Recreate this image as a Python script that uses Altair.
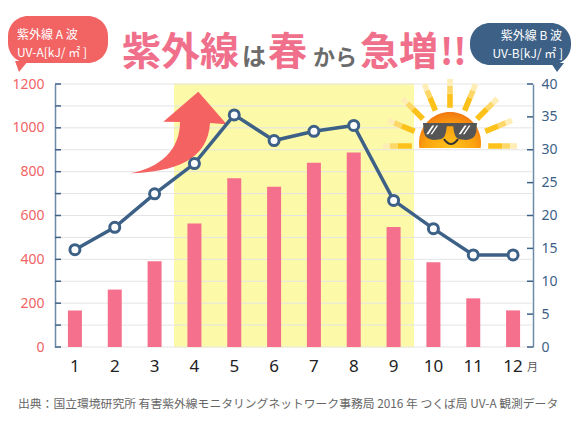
import math
import altair as alt
import pandas as pd

# ---------------- data ----------------
months = [1, 2, 3, 4, 5, 6, 7, 8, 9, 10, 11, 12]
uva = [167, 262, 391, 563, 770, 731, 841, 888, 548, 387, 222, 167]          # UV-A kJ/m2 (bars, left axis)
uvb = [14.8, 18.2, 23.3, 27.9, 35.3, 31.4, 32.8, 33.7, 22.3, 18.0, 14.0, 14.0]  # UV-B (line, right axis)
highlight_months = [4, 5, 6, 7, 8, 9]
uva_grid = list(range(0, 1201, 100))
uva_labels = [0, 200, 400, 600, 800, 1000, 1200]
uvb_labels = [0, 5, 10, 15, 20, 25, 30, 35, 40]
source_text = "出典：国立環境研究所 有害紫外線モニタリングネットワーク事務局 2016 年 つくば局 UV-A 観測データ"

# ---------------- layout ----------------
W, H = 478, 263
OX, OY = 55, 84   # page position of the plot origin
PINK = "#F4708D"
TITLE_PINK = "#F0708C"
RED = "#F26464"
BLUE = "#3D6186"
YELLOW = "#FCF9A9"
JP = "Noto Sans CJK JP"

df = pd.DataFrame({"month": months, "uva": uva, "uvb": uvb})
one = pd.DataFrame({"k": [0]})


def xenc():
    return alt.X(
        "month:O",
        scale=alt.Scale(domain=months, paddingInner=0, paddingOuter=0),
        axis=alt.Axis(title=None, labelAngle=0, domain=False, ticks=False, grid=False,
                      labelFontSize=17, labelColor="#222222", labelFont="Noto Sans",
                      labelPadding=11),
    )


yA = alt.Scale(domain=[0, 1200], nice=False)
yB = alt.Scale(domain=[0, 40], nice=False)


def axA():
    return alt.Axis(values=uva_labels, format="d", title=None, grid=False, ticks=False,
                    domainColor="#6D8AA6", domainWidth=1.5,
                    labelColor="#F06464", labelFontSize=14, labelFont="Noto Sans",
                    labelPadding=11)


def axB():
    return alt.Axis(orient="right", values=uvb_labels, format="d", title=None, grid=False, ticks=False,
                    domainColor="#6D8AA6", domainWidth=1.5,
                    labelColor=BLUE, labelFontSize=14, labelFont="Noto Sans",
                    labelPadding=8)


def shape_at(path, cx, cy, r, **kw):
    return alt.Chart(one).mark_point(shape=path, size=(2 * r) ** 2, opacity=1, **kw).encode(
        x=alt.value(cx - OX), y=alt.value(cy - OY))


def text_at(txt, x, y, **kw):
    return alt.Chart(one).mark_text(text=txt, **kw).encode(
        x=alt.value(x - OX), y=alt.value(y - OY))


def poly(pts):
    return "M" + " L".join(f"{x:.3f},{y:.3f}" for x, y in pts) + " Z"


def ray_path(r0, r1, hw):
    parts = []
    for i in range(9):
        a = math.radians(22.5 * i)
        dx, dy = math.cos(a), -math.sin(a)
        nx, ny = -dy, dx
        parts.append(poly([(dx * r0 + nx * hw, dy * r0 + ny * hw), (dx * r1 + nx * hw, dy * r1 + ny * hw),
                           (dx * r1 - nx * hw, dy * r1 - ny * hw), (dx * r0 - nx * hw, dy * r0 - ny * hw)]))
    return " ".join(parts)


def sun_body_path(cut):
    t0 = -math.asin(cut)
    t1 = math.pi - t0
    pts = [(math.cos(t0 + (t1 - t0) * k / 48), -math.sin(t0 + (t1 - t0) * k / 48)) for k in range(49)]
    return poly(pts)


# ---------------- left (UV-A) group ----------------
hl = alt.Chart(pd.DataFrame({"month": highlight_months, "top": [1200] * len(highlight_months)})).mark_bar(
    color=YELLOW, stroke=YELLOW, strokeWidth=1, width=alt.RelativeBandSize(1)
).encode(x=xenc(), y=alt.Y("top:Q", scale=yA, axis=axA()))

grid = alt.Chart(pd.DataFrame({"v": uva_grid})).mark_rule(color="#E4E4E4", strokeWidth=1).encode(
    y=alt.Y("v:Q", scale=yA, axis=axA()))

lticks = alt.Chart(pd.DataFrame({"v": uva_grid})).mark_rule(color=BLUE, strokeWidth=1.5).encode(
    y=alt.Y("v:Q", scale=yA, axis=axA()), x=alt.value(0), x2=alt.value(6))

arrow_path = ("M0.406,-0.806 L0.974,-0.154 L0.64,-0.18 C0.6,0.56 -0.06,0.8 -0.96,0.826 "
              "C-0.36,0.72 0.04,0.36 0.04,-0.2 L-0.294,-0.206 Z")
arrow = shape_at(arrow_path, 178, 132, 50, filled=True, color="#F46262")

RC = (450, 146)
RR = 67
rays1 = shape_at(ray_path(0.57, 0.78, 0.042), RC[0], RC[1], RR, filled=True, color="#FCC21B")
rays2 = shape_at(ray_path(0.78, 0.9, 0.042), RC[0], RC[1], RR, filled=True, color="#FDD868")
rays3 = shape_at(ray_path(0.9, 1.0, 0.042), RC[0], RC[1], RR, filled=True, color="#FEEDB5")

sun_fill = {"gradient": "radial", "x1": 0.5, "y1": 0.85, "r1": 0, "x2": 0.5, "y2": 0.85, "r2": 0.75,
            "stops": [{"offset": 0, "color": "#FFC81E"}, {"offset": 0.55, "color": "#FBA20F"},
                      {"offset": 1, "color": "#EE6412"}]}
sun = shape_at(sun_body_path(0.161), 450, 143, 31, filled=True, fill=sun_fill, strokeWidth=0)

glasses_path = ("M-1,-0.3 L1,-0.3 L0.97,0.05 Q0.9,0.33 0.6,0.33 L0.35,0.31 Q0.15,0.27 0.12,-0.18 "
                "L-0.12,-0.18 Q-0.15,0.27 -0.35,0.31 L-0.6,0.33 Q-0.9,0.33 -0.97,0.05 Z")
glasses = shape_at(glasses_path, 450, 131, 27, filled=True, color="#555555")
shine_path = ("M-0.88,0.12 L-0.66,-0.2 L-0.58,-0.2 L-0.8,0.12 Z M-0.72,0.12 L-0.5,-0.2 L-0.44,-0.2 L-0.66,0.12 Z "
              "M0.32,0.12 L0.54,-0.2 L0.62,-0.2 L0.4,0.12 Z M0.48,0.12 L0.7,-0.2 L0.76,-0.2 L0.54,0.12 Z")
shine = shape_at(shine_path, 450, 131, 27, filled=True, color="#FFFFFF")
smile = shape_at("M-1,-0.4 Q0,1 1,-0.4", 451, 142, 7, filled=False, color="#333333", strokeWidth=2)

bars = alt.Chart(df).mark_bar(color=PINK, size=14).encode(
    x=xenc(), y=alt.Y("uva:Q", scale=yA, axis=axA()))

left = alt.layer(hl, grid, lticks, arrow, rays1, rays2, rays3, sun, glasses, shine, smile, bars)

# ---------------- right (UV-B) group ----------------
rticks = alt.Chart(pd.DataFrame({"v": uvb_labels})).mark_rule(color=BLUE, strokeWidth=1.5).encode(
    y=alt.Y("v:Q", scale=yB, axis=axB()), x=alt.value(W - 6), x2=alt.value(W))

line = alt.Chart(df).mark_line(color=BLUE, strokeWidth=3.5).encode(
    x=xenc(), y=alt.Y("uvb:Q", scale=yB, axis=axB()))
pts = alt.Chart(df).mark_point(shape="circle", filled=True, fill="white", stroke=BLUE,
                               strokeWidth=3, size=100, opacity=1).encode(
    x=xenc(), y=alt.Y("uvb:Q", scale=yB, axis=axB()))

right = alt.layer(rticks, line, pts)

# ---------------- annotations ----------------
lb = alt.Chart(one).mark_rect(color=RED, cornerRadius=20).encode(
    x=alt.value(8 - OX), x2=alt.value(108 - OX), y=alt.value(16 - OY), y2=alt.value(63 - OY))
lb_tail = shape_at("M-0.857,-0.714 L1,-0.714 L-0.286,0.857 Z", 21, 66, 7, filled=True, color=RED)
rb = alt.Chart(one).mark_rect(color=BLUE, cornerRadius=20).encode(
    x=alt.value(470 - OX), x2=alt.value(571 - OX), y=alt.value(23 - OY), y2=alt.value(65 - OY))
rb_tail = shape_at("M-0.857,-0.571 L1,-0.571 L0,0.714 Z", 557, 67, 7, filled=True, color=BLUE)

bub_kw = dict(font=JP, fontSize=12, color="white", baseline="alphabetic")
lb_t1 = text_at("紫外線 A 波", 17, 39, align="left", **bub_kw)
lb_t2 = text_at("UV-A[kJ/ ㎡ ]", 17, 57, align="left", **bub_kw)
rb_t1 = text_at("紫外線 B 波", 562, 40, align="right", **bub_kw)
rb_t2 = text_at("UV-B[kJ/ ㎡ ]", 563, 58, align="right", **bub_kw)

big = dict(font=JP, fontSize=39, fontWeight="bold", color=TITLE_PINK, align="left", baseline="alphabetic")
t1 = text_at("紫外線", 122, 65, **big)
t2 = text_at("は", 242, 65, font=JP, fontSize=24, fontWeight="bold", color="#6B6B6B", align="left",
             baseline="alphabetic")
t3 = text_at("春", 268, 65, **big)
t4 = text_at("から", 313, 65, font=JP, fontSize=22, fontWeight="bold", color="#6B6B6B", align="left",
             baseline="alphabetic")
t5 = text_at("急増", 360, 65, **big)
t6 = text_at("!!", 440, 65, font=JP, fontSize=36, fontWeight="bold", color=TITLE_PINK, align="left",
             baseline="alphabetic")

month_unit = text_at("月", 527, 371, font=JP, fontSize=11, color="#555555", align="left", baseline="alphabetic")
src = text_at(source_text, 18, 408, font=JP, fontSize=11.8, color="#666666", align="left", baseline="alphabetic")

chart = alt.layer(
    left, right, lb, lb_tail, rb, rb_tail, lb_t1, lb_t2, rb_t1, rb_t2,
    t1, t2, t3, t4, t5, t6, month_unit, src
).resolve_scale(y="independent").properties(
    width=W, height=H,
    padding={"left": 47, "top": 76, "right": 38, "bottom": 73},
    autosize=alt.AutoSizeParams(type="none"),
).configure_view(stroke=None)

chart.save("out.html", embed_options={"renderer": "svg", "actions": False})
